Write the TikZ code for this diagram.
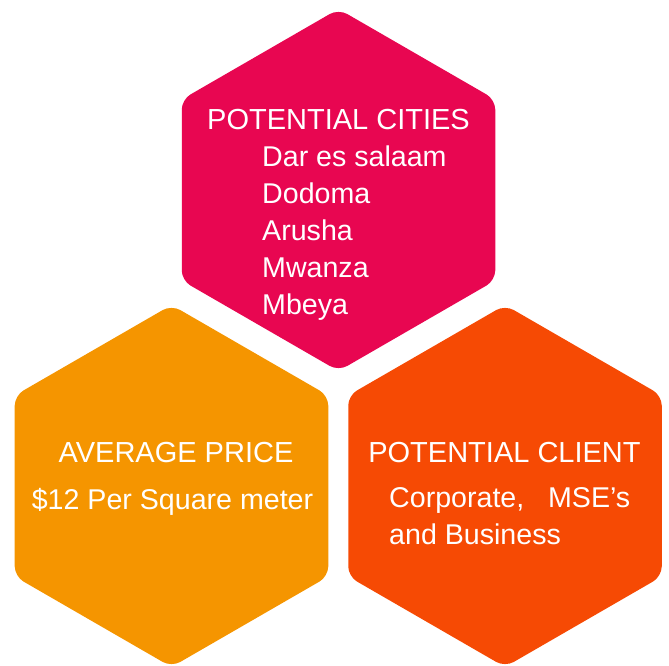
\documentclass[tikz,border=0pt]{standalone}
\usepackage{fontspec}
\setmainfont{Liberation Sans}
\definecolor{cityred}{HTML}{E80651}
\definecolor{priceorange}{HTML}{F59500}
\definecolor{clientorange}{HTML}{F64A04}

\begin{document}
\begin{tikzpicture}[
  x=1pt, y=1pt,
  every node/.style = {text=white, inner sep=0pt},
  Title/.style = {font=\fontsize{29}{34}\selectfont, anchor=base},
  Item/.style = {font=\fontsize{28.6}{34}\selectfont, anchor=base west},
  Hex/.style = {rounded corners=10pt}
  ]
  \useasboundingbox (0,0) rectangle (669,666);
  \def\R{181}

  % the three hexagons
  \foreach \name/\x/\y/\col in {cities/338.5/476/cityred, price/171.5/180/priceorange, client/505/180/clientorange}
  {
    \coordinate (\name) at (\x,\y);
    \fill[Hex, \col] (\name) ++(90:\R) -- ++(210:\R) -- ++(270:\R) -- ++(330:\R)
      -- ++(30:\R) -- ++(90:\R) -- cycle;
  }

  \node[Title] (citiesTitle) at (338.5,536) {POTENTIAL CITIES};
  \foreach \city [count=\i] in {Dar es salaam, Dodoma, Arusha, Mwanza, Mbeya}
    \node[Item] (city\i) at (262,536-37*\i) {\city};

  \node[Title] (priceTitle) at (176,203) {AVERAGE PRICE};
  \node[Item, anchor=base] (priceText) at (172.5,156) {\$12 Per Square meter};

  \node[Title] (clientTitle) at (504.5,203) {POTENTIAL CLIENT};
  \node[Item] (clientText1) at (389,158) {Corporate,\ \ \ MSE’s};
  \node[Item] (clientText2) at (389,121) {and Business};

\end{tikzpicture}
\end{document}
